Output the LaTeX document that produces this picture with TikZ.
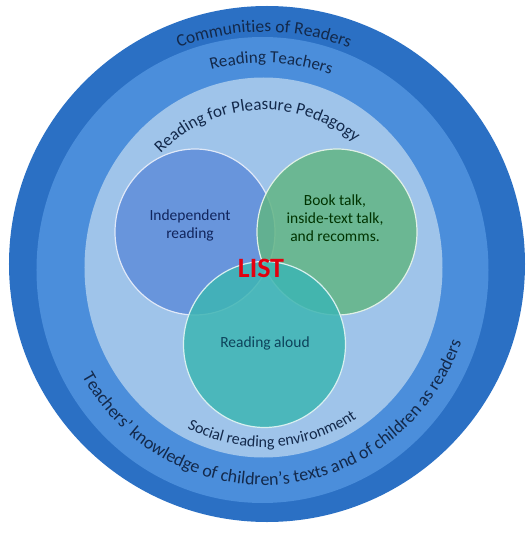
\documentclass[tikz,border=0pt]{standalone}
\usepackage{fontspec}
\setmainfont{Carlito}
\usetikzlibrary{decorations.text}
\definecolor{ringdark}{HTML}{2B70C4}
\definecolor{ringmid}{HTML}{4B8EDB}
\definecolor{ringlight}{HTML}{9FC4EA}
\definecolor{indblue}{HTML}{5F8DDA}
\definecolor{talkgreen}{HTML}{62B584}
\definecolor{aloudteal}{HTML}{3DB5B3}
\definecolor{navytext}{HTML}{13294B}
\definecolor{listred}{HTML}{E3000F}
\begin{document}
\begin{tikzpicture}[x=1pt,y=1pt,
    venn/.style={fill=#1,fill opacity=0.85,draw=white!80!#1,line width=1.2pt},
    curved/.style={decorate,decoration={text along path,text align=center,text={#1}}}]
  \useasboundingbox (-264,-265) rectangle (263,268);

  % rings
  \fill[ringdark] (3,4) ellipse [x radius=258,y radius=258];
  \fill[ringmid] (-1.5,-2) ellipse [x radius=226,y radius=233];
  \fill[ringlight] (-0.5,0.5) ellipse [x radius=179,y radius=190];

  % venn circles
  \draw[venn=indblue] (-69,36) ellipse [x radius=80,y radius=83];
  \draw[venn=talkgreen] (73,36) ellipse [x radius=80,y radius=83];
  \draw[venn=aloudteal] (0.5,-76.5) ellipse [x radius=81,y radius=83];

  \node[align=center,text=navytext!90!blue,font=\fontsize{15.5}{18}\selectfont] (indep) at (-74,43) {Independent\\reading};
  \node[align=center,text=black!80!green,font=\fontsize{15.5}{18}\selectfont] (talk) at (71,50) {Book talk,\\inside-text talk,\\and recomms.};
  \node[text=navytext!70!teal,font=\fontsize{15.5}{18}\selectfont] (aloud) at (1,-75) {Reading aloud};
  \node[text=listred,font=\fontsize{28}{30}\selectfont\bfseries] (list) at (-3,0) {LIST};

  % curved labels
  \path[curved={|\fontsize{17.5}{20}\selectfont\color{navytext}|Communities of Readers}]
    (160:236) arc [start angle=160,end angle=20,radius=236];
  \path[curved={|\fontsize{17}{20}\selectfont\color{navytext}|Reading Teachers}]
    (158:205) arc [start angle=158,end angle=18,radius=205];
  \path[curved={|\fontsize{17}{20}\selectfont\color{navytext}|Reading for Pleasure Pedagogy}]
    (0,0) ++(176:150 and 158) arc [start angle=176,end angle=10,x radius=150,y radius=158];
  \path[curved={|\fontsize{16}{18}\selectfont\color{navytext}|Social reading environment}]
    (0,0) ++(203:172 and 179) arc [start angle=203,end angle=343,x radius=172,y radius=179];
  \path[curved={|\fontsize{18}{20}\selectfont\color{navytext}|Teachers’ knowledge of children’s texts and of children as readers}]
    (0,0) ++(190:210 and 217) arc [start angle=190,end angle=360,x radius=210,y radius=217];
\end{tikzpicture}
\end{document}
